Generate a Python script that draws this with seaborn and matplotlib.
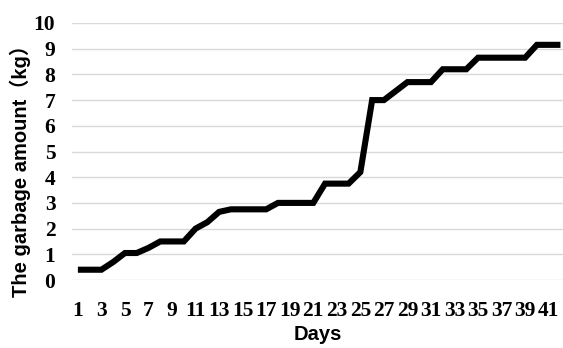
import numpy as np
import pandas as pd
import matplotlib
matplotlib.use("Agg")
import matplotlib.pyplot as plt
import seaborn as sns

# Cumulative garbage amount per day
days = list(range(1, 43))
amounts = [
    0.4, 0.4, 0.4, 0.7, 1.05, 1.05, 1.25, 1.5, 1.5, 1.5,
    2.0, 2.25, 2.65, 2.75, 2.75, 2.75, 2.75, 3.0, 3.0, 3.0,
    3.0, 3.75, 3.75, 3.75, 4.2, 7.0, 7.0, 7.35, 7.7, 7.7,
    7.7, 8.2, 8.2, 8.2, 8.65, 8.65, 8.65, 8.65, 8.65, 9.15,
    9.15, 9.15,
]
x_tick_labels = [str(d) for d in range(1, 42, 2)]
y_ticks = list(range(0, 11))

df = pd.DataFrame({"day": days, "amount": amounts})

sns.set_theme(style="white")
W, H = 563, 348
fig = plt.figure(figsize=(W / 100, H / 100), dpi=100)
left_px, right_px, top_px, bottom_px = 72, 563, 23, 280
ax = fig.add_axes([left_px / W, 1 - bottom_px / H,
                   (right_px - left_px) / W, (bottom_px - top_px) / H])

sns.lineplot(data=df, x="day", y="amount", ax=ax, color="black",
             linewidth=4.4, solid_joinstyle="miter", solid_capstyle="butt")

step = 11.77
ax.set_xlim(0.5, 0.5 + (right_px - left_px) / step)
ax.set_ylim(0, 10)

ax.set_xticks(list(range(1, 42, 2)))
ax.set_xticklabels(x_tick_labels)
ax.set_yticks(y_ticks)
ax.set_yticklabels([str(v) for v in y_ticks])

for s in ax.spines.values():
    s.set_visible(False)
ax.grid(axis="y", color="#d9d9d9", linewidth=1.0)
ax.grid(axis="x", visible=False)
ax.tick_params(axis="both", length=0)
ax.tick_params(axis="x", pad=15)
ax.tick_params(axis="y", pad=12)

for lab in ax.get_xticklabels() + ax.get_yticklabels():
    lab.set_fontfamily("Liberation Serif")
    lab.set_fontweight("bold")
    lab.set_fontsize(15.5)
    lab.set_color("black")

ax.set_xlabel("Days", fontsize=14.5, family="Liberation Sans", color="black",
              weight="bold", labelpad=3)
ax.set_ylabel("")
fig.text(20 / W, 1 - 166 / H, "The garbage amount（kg）", rotation=90,
         ha="center", va="center", fontsize=14.5, color="black", weight="bold",
         family=["Liberation Sans", "Noto Sans CJK JP"])

fig.savefig("out.png", dpi=100, facecolor="white")
